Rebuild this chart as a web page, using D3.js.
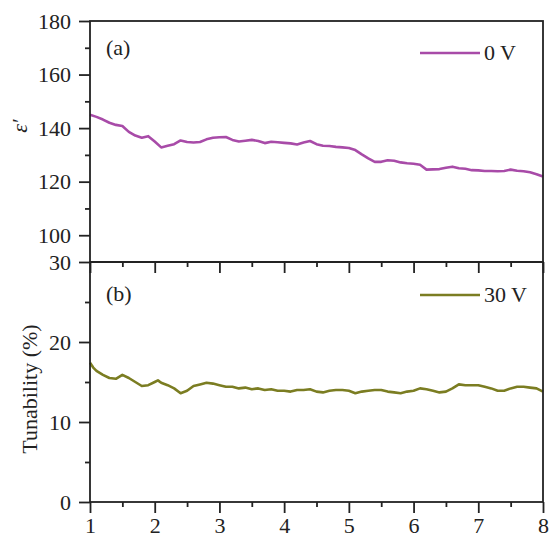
<!DOCTYPE html>
<html>
<head>
<meta charset="utf-8">
<script src="https://cdn.jsdelivr.net/npm/d3@7"></script>
<style>
  body { margin: 0; background: #fff; }
  svg text { font-family: "Liberation Serif", "Times New Roman", serif; fill: #222; }
</style>
</head>
<body>
<script>
// bias (V) readings along x
const biasTop = [1.0,1.1,1.2,1.3,1.4,1.5,1.6,1.7,1.8,1.9,2.0,2.1,2.2,2.3,2.4,2.5,2.6,2.7,2.8,2.9,3.0,3.1,3.2,3.3,3.4,3.5,3.6,3.7,3.8,3.9,4.0,4.1,4.2,4.3,4.4,4.5,4.6,4.7,4.8,4.9,5.0,5.1,5.2,5.3,5.4,5.5,5.6,5.7,5.8,5.9,6.0,6.1,6.2,6.3,6.4,6.5,6.6,6.7,6.8,6.9,7.0,7.1,7.2,7.3,7.4,7.5,7.6,7.7,7.8,7.9,8.0];
const epsilon0V = [145,144.2,143.2,142,141.2,140.8,138.6,137.2,136.4,137,135,132.8,133.4,134,135.4,134.8,134.6,134.8,135.8,136.4,136.6,136.7,135.6,135,135.3,135.6,135.2,134.4,134.9,134.7,134.5,134.3,133.9,134.6,135.2,134,133.4,133.3,133,132.8,132.6,131.8,130.2,128.7,127.4,127.4,128,127.8,127.2,126.9,126.7,126.3,124.5,124.6,124.7,125.2,125.6,125,124.8,124.3,124.2,124,124,123.9,124,124.5,124.1,123.9,123.5,122.8,121.9];

const biasBot = [1.0,1.05,1.1,1.2,1.3,1.4,1.5,1.6,1.7,1.8,1.9,2.0,2.05,2.1,2.2,2.3,2.4,2.5,2.6,2.7,2.8,2.9,3.0,3.1,3.2,3.3,3.4,3.5,3.6,3.7,3.8,3.9,4.0,4.1,4.2,4.3,4.4,4.5,4.6,4.7,4.8,4.9,5.0,5.1,5.2,5.3,5.4,5.5,5.6,5.7,5.8,5.9,6.0,6.1,6.2,6.3,6.4,6.5,6.6,6.7,6.8,6.9,7.0,7.1,7.2,7.3,7.4,7.5,7.6,7.7,7.8,7.9,8.0];
const tunability30V = [17.4,16.8,16.4,15.9,15.5,15.4,15.9,15.5,15,14.5,14.6,15,15.2,14.9,14.6,14.2,13.6,13.9,14.5,14.7,14.9,14.8,14.6,14.4,14.4,14.2,14.3,14.1,14.2,14.0,14.1,13.9,13.9,13.8,14.0,14.0,14.1,13.8,13.7,13.9,14.0,14.0,13.9,13.6,13.8,13.9,14.0,14.0,13.8,13.7,13.6,13.8,13.9,14.2,14.1,13.9,13.7,13.8,14.2,14.7,14.6,14.6,14.6,14.4,14.2,13.9,13.9,14.2,14.4,14.4,14.3,14.2,13.8];

const xTicks = [1,2,3,4,5,6,7,8];
const xMinor = [1.5,2.5,3.5,4.5,5.5,6.5,7.5];
const topTicks = [100,120,140,160,180];
const topMinor = [110,130,150,170];
const botTicks = [0,10,20,30];
const botMinor = [5,15,25];

const W = 550, H = 540;
const left = 90, right = 543;
const topY0 = 21, midY = 262, botY = 502;
const fs = "22px";

const svg = d3.select("body").append("svg")
    .attr("width", W)
    .attr("height", H);

const x = d3.scaleLinear().domain([1, 8]).range([left, right]);
const yTop = d3.scaleLinear().domain([90, 180]).range([midY, topY0]);
const yBot = d3.scaleLinear().domain([0, 30]).range([botY, midY]);

const axisColor = "#222";

// lines
const lineTop = d3.line().x((d, i) => x(biasTop[i])).y(d => yTop(d));
const lineBot = d3.line().x((d, i) => x(biasBot[i])).y(d => yBot(d));

svg.append("path")
    .datum(epsilon0V)
    .attr("d", lineTop)
    .attr("fill", "none")
    .attr("stroke", "#a84ba8")
    .attr("stroke-width", 2.6)
    .attr("stroke-linejoin", "round");

svg.append("path")
    .datum(tunability30V)
    .attr("d", lineBot)
    .attr("fill", "none")
    .attr("stroke", "#7b7d22")
    .attr("stroke-width", 2.6)
    .attr("stroke-linejoin", "round");

// frames
function frame(y0, y1) {
    svg.append("rect")
        .attr("x", left).attr("y", y0)
        .attr("width", right - left).attr("height", y1 - y0)
        .attr("fill", "none")
        .attr("stroke", axisColor)
        .attr("stroke-width", 1.8);
}
frame(topY0, midY);
frame(midY, botY);

function styleAxis(g) {
    g.select(".domain").remove();
    g.selectAll("line").attr("stroke", axisColor).attr("stroke-width", 1.8);
    g.selectAll("text").style("font-size", fs).attr("fill", axisColor);
}

// y axes (major + minor)
svg.append("g")
    .attr("transform", `translate(${left},0)`)
    .call(d3.axisLeft(yTop).tickValues(topMinor).tickSize(5).tickFormat(""))
    .call(styleAxis);
svg.append("g")
    .attr("transform", `translate(${left},0)`)
    .call(d3.axisLeft(yTop).tickValues(topTicks).tickSize(11).tickPadding(8))
    .call(styleAxis);

svg.append("g")
    .attr("transform", `translate(${left},0)`)
    .call(d3.axisLeft(yBot).tickValues(botMinor).tickSize(5).tickFormat(""))
    .call(styleAxis);
svg.append("g")
    .attr("transform", `translate(${left},0)`)
    .call(d3.axisLeft(yBot).tickValues(botTicks).tickSize(11).tickPadding(8))
    .call(styleAxis);

// shared line ticks (pointing down)
svg.append("g")
    .attr("transform", `translate(0,${midY})`)
    .call(d3.axisBottom(x).tickValues(xTicks).tickSize(11).tickFormat(""))
    .call(styleAxis);
svg.append("g")
    .attr("transform", `translate(0,${midY})`)
    .call(d3.axisBottom(x).tickValues(xMinor).tickSize(5).tickFormat(""))
    .call(styleAxis);

// bottom x axis
svg.append("g")
    .attr("transform", `translate(0,${botY})`)
    .call(d3.axisBottom(x).tickValues(xMinor).tickSize(5).tickFormat(""))
    .call(styleAxis);
svg.append("g")
    .attr("transform", `translate(0,${botY})`)
    .call(d3.axisBottom(x).tickValues(xTicks).tickSize(11).tickPadding(4).tickFormat(d3.format("d")))
    .call(styleAxis);

// axis titles
svg.append("text")
    .attr("transform", `translate(27,${yTop(140) - 2}) rotate(-90)`)
    .attr("text-anchor", "middle")
    .style("font-size", fs)
    .style("font-style", "italic")
    .text("ε′");

svg.append("text")
    .attr("transform", `translate(37,${(midY + botY) / 2 + 7}) rotate(-90)`)
    .attr("text-anchor", "middle")
    .style("font-size", fs)
    .text("Tunability (%)");

// panel labels
svg.append("text").attr("x", 106).attr("y", 55).style("font-size", fs).text("(a)");
svg.append("text").attr("x", 106).attr("y", 301).style("font-size", fs).text("(b)");

// legends
function legend(y, color, label) {
    svg.append("line")
        .attr("x1", 420).attr("x2", 480)
        .attr("y1", y).attr("y2", y)
        .attr("stroke", color).attr("stroke-width", 2.6);
    svg.append("text")
        .attr("x", 484).attr("y", y + 7)
        .style("font-size", fs)
        .text(label);
}
legend(53, "#a84ba8", "0 V");
legend(295, "#7b7d22", "30 V");
</script>
</body>
</html>
